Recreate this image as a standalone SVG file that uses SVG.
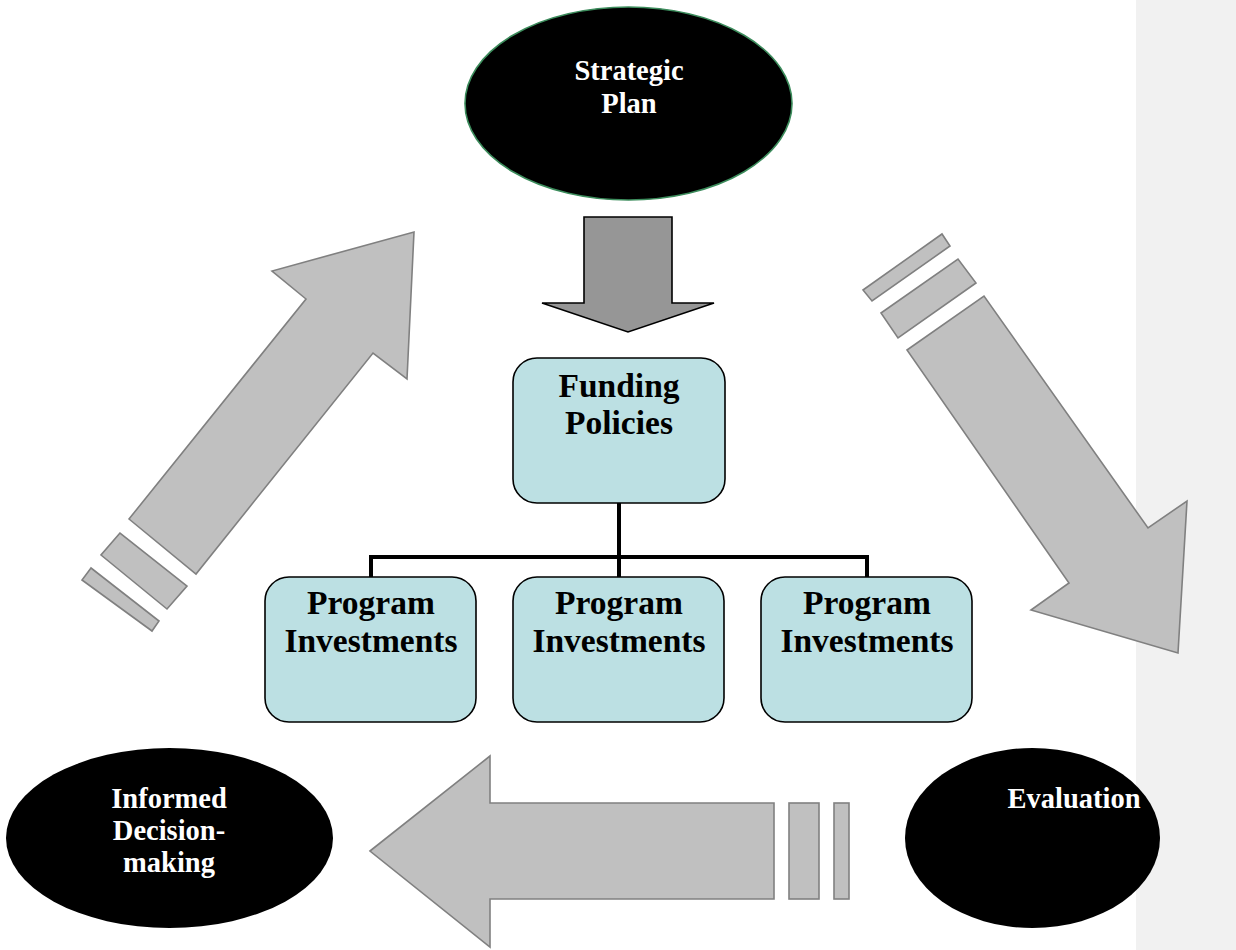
<svg xmlns="http://www.w3.org/2000/svg" width="1236" height="950" viewBox="0 0 1236 950">
  <defs>
    <style>
      .bg { fill: #ffffff; }
      .panel { fill: #f1f1f1; }
      .oval { fill: #000000; }
      .oval-text { font-family: "Liberation Serif", "Times New Roman", serif; font-weight: bold; font-size: 28.5px; fill: #ffffff; text-anchor: middle; }
      .box { fill: #bce0e3; stroke: #000000; stroke-width: 1.6; }
      .box-text { font-family: "Liberation Serif", "Times New Roman", serif; font-weight: bold; font-size: 33.5px; fill: #000000; text-anchor: middle; }
      .cycle { fill: #c0c0c0; stroke: #808080; stroke-width: 1.6; stroke-linejoin: miter; }
      .feed { fill: #969696; stroke: #000000; stroke-width: 1.6; stroke-linejoin: miter; }
      .tree { fill: none; stroke: #000000; stroke-width: 4; stroke-linecap: butt; stroke-linejoin: miter; }
    </style>
  </defs>

  <rect class="bg" x="0" y="0" width="1236" height="950"/>
  <!-- margin strip on the right -->
  <rect class="panel" x="1136" y="0" width="100" height="950"/>

  <!-- cycle arrows and the feed arrow -->
  <g id="connectors">
    <!-- down-right arrow with its two trailing bars -->
    <polygon class="cycle" points="863,290 942,234 950,246 872,301"/>
    <polygon class="cycle" points="881,313 958,259 976,283 898,338"/>
    <polygon class="cycle" points="907,350 984,296 1148,528 1187,501 1178,653 1031,610 1069,583"/>

    <!-- left-pointing arrow with its two trailing bars -->
    <polygon class="cycle" points="370,851 490,756 490,803 774,803 774,899 490,899 490,947"/>
    <rect class="cycle" x="789" y="803" width="30" height="96"/>
    <rect class="cycle" x="834" y="803" width="15" height="96"/>

    <!-- up-right arrow with its two trailing bars -->
    <polygon class="cycle" points="129,519 306,299 272,271 414,232 407,379 373,353 196,574"/>
    <polygon class="cycle" points="120,533 101,555 167,609 187,586"/>
    <polygon class="cycle" points="91,568 82,580 152,631 159,621"/>

    <!-- feed from plan to policies -->
    <polygon class="feed" points="584,217 672,217 672,303 714,303 628,332 542,303 584,303"/>

    <!-- tree links -->
    <path class="tree" d="M619,503 V577 M371,577 V557 H867 V577"/>
  </g>

  <g id="strategic-plan">
    <ellipse class="oval" cx="628.5" cy="103.5" rx="163.5" ry="96.5" stroke="#3c8c5c" stroke-width="1.6"/>
    <text class="oval-text" x="629" y="80">Strategic</text>
    <text class="oval-text" x="629" y="113">Plan</text>
  </g>

  <g id="funding-policies">
    <rect class="box" x="513" y="358" width="212" height="145" rx="24" ry="24"/>
    <text class="box-text" x="619" y="397">Funding</text>
    <text class="box-text" x="619" y="434">Policies</text>
  </g>

  <g id="program-1">
    <rect class="box" x="265" y="577" width="211" height="145" rx="24" ry="24"/>
    <text class="box-text" x="371" y="614">Program</text>
    <text class="box-text" x="371" y="652">Investments</text>
  </g>

  <g id="program-2">
    <rect class="box" x="513" y="577" width="211" height="145" rx="24" ry="24"/>
    <text class="box-text" x="619" y="614">Program</text>
    <text class="box-text" x="619" y="652">Investments</text>
  </g>

  <g id="program-3">
    <rect class="box" x="761" y="577" width="211" height="145" rx="24" ry="24"/>
    <text class="box-text" x="867" y="614">Program</text>
    <text class="box-text" x="867" y="652">Investments</text>
  </g>

  <g id="informed-decision-making">
    <ellipse class="oval" cx="169.5" cy="838" rx="163.5" ry="90"/>
    <text class="oval-text" x="169" y="808">Informed</text>
    <text class="oval-text" x="169" y="840">Decision-</text>
    <text class="oval-text" x="169" y="872">making</text>
  </g>

  <g id="evaluation">
    <ellipse class="oval" cx="1032.5" cy="838" rx="127.5" ry="90"/>
    <text class="oval-text" x="1074" y="808">Evaluation</text>
  </g>
</svg>
